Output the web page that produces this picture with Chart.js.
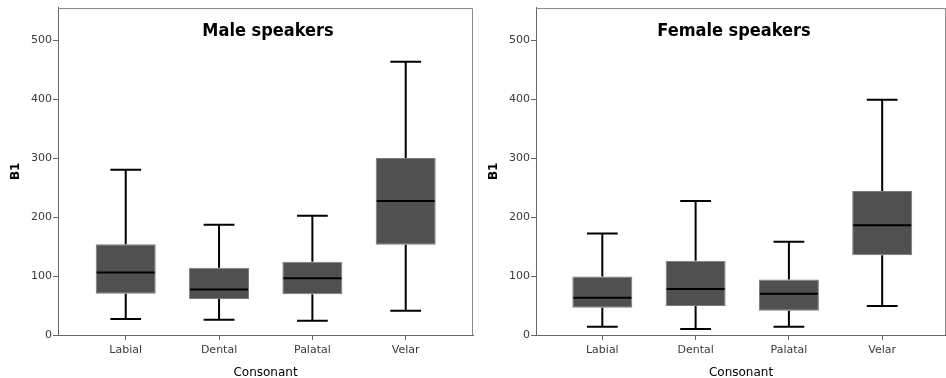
<!DOCTYPE html>
<html><head><meta charset="utf-8">
<script src="https://cdn.jsdelivr.net/npm/chart.js@4"></script>
<style>
html,body{margin:0;padding:0;background:#fff;width:946px;height:378px;overflow:hidden}
#l{position:absolute;left:0;top:0;width:480px;height:378px}
#r{position:absolute;left:473px;top:0;width:473px;height:378px}
</style></head><body>
<div id="l"><canvas id="c1"></canvas></div>
<div id="r"><canvas id="c2"></canvas></div>
<script>
const categories = ['Labial', 'Dental', 'Palatal', 'Velar'];
const panelTitles = ['Male speakers', 'Female speakers'];
const yTicks = [0, 100, 200, 300, 400, 500];

const maleMin    = [27, 26, 24, 41];
const maleQ1     = [70, 61, 69, 153];
const maleMedian = [106, 77, 96, 227];
const maleQ3     = [154, 114, 124, 300];
const maleMax    = [280, 187, 202, 463];

const femaleMin    = [14, 10, 14, 49];
const femaleQ1     = [46, 49, 41, 135];
const femaleMedian = [63, 78, 70, 186];
const femaleQ3     = [99, 126, 94, 244];
const femaleMax    = [172, 227, 158, 399];

Chart.defaults.font.family = "'DejaVu Sans', 'Verdana', sans-serif";
Chart.defaults.font.size = 11;
Chart.defaults.color = '#3a3a3a';

const BOX_FRAC = 0.643;
const CAP_FRAC = 0.33;

const boxExtras = {
  id: 'boxExtras',
  afterDatasetsDraw(chart, args, opts) {
    const ctx = chart.ctx, xs = chart.scales.x, ys = chart.scales.y;
    ctx.save();
    ctx.strokeStyle = '#000';
    ctx.lineWidth = 2;
    opts.median.forEach((m, i) => {
      const cx = xs.getPixelForValue(i);
      const bw = xs.getPixelForValue(i + BOX_FRAC / 2) - cx;
      const cw = xs.getPixelForValue(i + CAP_FRAC / 2) - cx;
      const yMin = ys.getPixelForValue(opts.min[i]);
      const yQ1 = ys.getPixelForValue(opts.q1[i]);
      const yQ3 = ys.getPixelForValue(opts.q3[i]);
      const yMax = ys.getPixelForValue(opts.max[i]);
      const yMed = ys.getPixelForValue(m);
      ctx.beginPath();
      ctx.moveTo(cx, yQ3); ctx.lineTo(cx, yMax);
      ctx.moveTo(cx, yQ1); ctx.lineTo(cx, yMin);
      ctx.moveTo(cx - cw, yMax); ctx.lineTo(cx + cw, yMax);
      ctx.moveTo(cx - cw, yMin); ctx.lineTo(cx + cw, yMin);
      ctx.moveTo(cx - bw + 1, yMed); ctx.lineTo(cx + bw - 1, yMed);
      ctx.stroke();
    });
    // frame top/right
    const a = chart.chartArea;
    ctx.strokeStyle = '#8a8a8a';
    ctx.lineWidth = 1;
    ctx.beginPath();
    ctx.moveTo(a.left, Math.round(a.top) + 0.5);
    ctx.lineTo(Math.round(a.right) - 0.5, Math.round(a.top) + 0.5);
    ctx.lineTo(Math.round(a.right) - 0.5, a.bottom);
    ctx.stroke();
    // panel title
    ctx.fillStyle = '#000';
    ctx.font = "bold 18px 'DejaVu Sans Condensed', 'DejaVu Sans', sans-serif";
    ctx.textAlign = 'center';
    ctx.textBaseline = 'middle';
    ctx.fillText(opts.title, opts.titleX, opts.titleY);
    ctx.restore();
  }
};

function makeChart(id, stats, cfg) {
  return new Chart(document.getElementById(id), {
    type: 'bar',
    data: {
      datasets: [{
        data: categories.map((c, i) => ({ x: i, y: [stats.q1[i], stats.q3[i]] })),
        backgroundColor: '#505050',
        borderColor: '#7a7a7a',
        borderWidth: 1,
        borderSkipped: false,
        categoryPercentage: 1,
        barPercentage: BOX_FRAC
      }]
    },
    options: {
      responsive: true,
      maintainAspectRatio: false,
      animation: false,
      events: [],
      layout: { padding: { top: 7, right: cfg.padRight, left: 0, bottom: 0 } },
      plugins: {
        legend: { display: false },
        tooltip: { enabled: false },
        boxExtras: Object.assign({ title: cfg.title, titleX: cfg.titleX, titleY: 31 }, stats)
      },
      scales: {
        x: {
          type: 'linear',
          offset: false,
          min: cfg.xMin, max: cfg.xMax,
          afterBuildTicks: s => { s.ticks = categories.map((c, i) => ({ value: i })); },
          afterFit: s => { s.height = 43; },
          ticks: { callback: v => categories[v], padding: 4, maxRotation: 0, autoSkip: false },
          grid: { drawOnChartArea: false, drawTicks: true, tickLength: 5, color: '#666', offset: false },
          border: { display: true, color: '#666', width: 1 },
          title: { display: true, text: 'Consonant', color: '#000', font: { size: 12 }, padding: { top: 0, bottom: -2 } }
        },
        y: {
          min: 0, max: 555,
          afterBuildTicks: s => { s.ticks = yTicks.map(v => ({ value: v })); },
          afterFit: s => { s.width = cfg.yWidth; },
          ticks: { padding: 1 },
          grid: { drawOnChartArea: false, drawTicks: true, tickLength: 5, color: '#666' },
          border: { display: true, color: '#666', width: 1 },
          title: { display: true, text: 'B1', color: '#000', font: { size: 12, weight: 'bold' }, padding: { top: cfg.yTitlePad, bottom: 0 } }
        }
      }
    },
    plugins: [boxExtras]
  });
}

makeChart('c1',
  { min: maleMin, q1: maleQ1, median: maleMedian, q3: maleQ3, max: maleMax },
  { title: panelTitles[0], titleX: 268, padRight: 7, yWidth: 58, xMin: -0.7256, xMax: 3.721, yTitlePad: 9 });
makeChart('c2',
  { min: femaleMin, q1: femaleQ1, median: femaleMedian, q3: femaleQ3, max: femaleMax },
  { title: panelTitles[1], titleX: 261, padRight: 0, yWidth: 63, xMin: -0.711, xMax: 3.684, yTitlePad: 14 });
</script>
</body></html>
